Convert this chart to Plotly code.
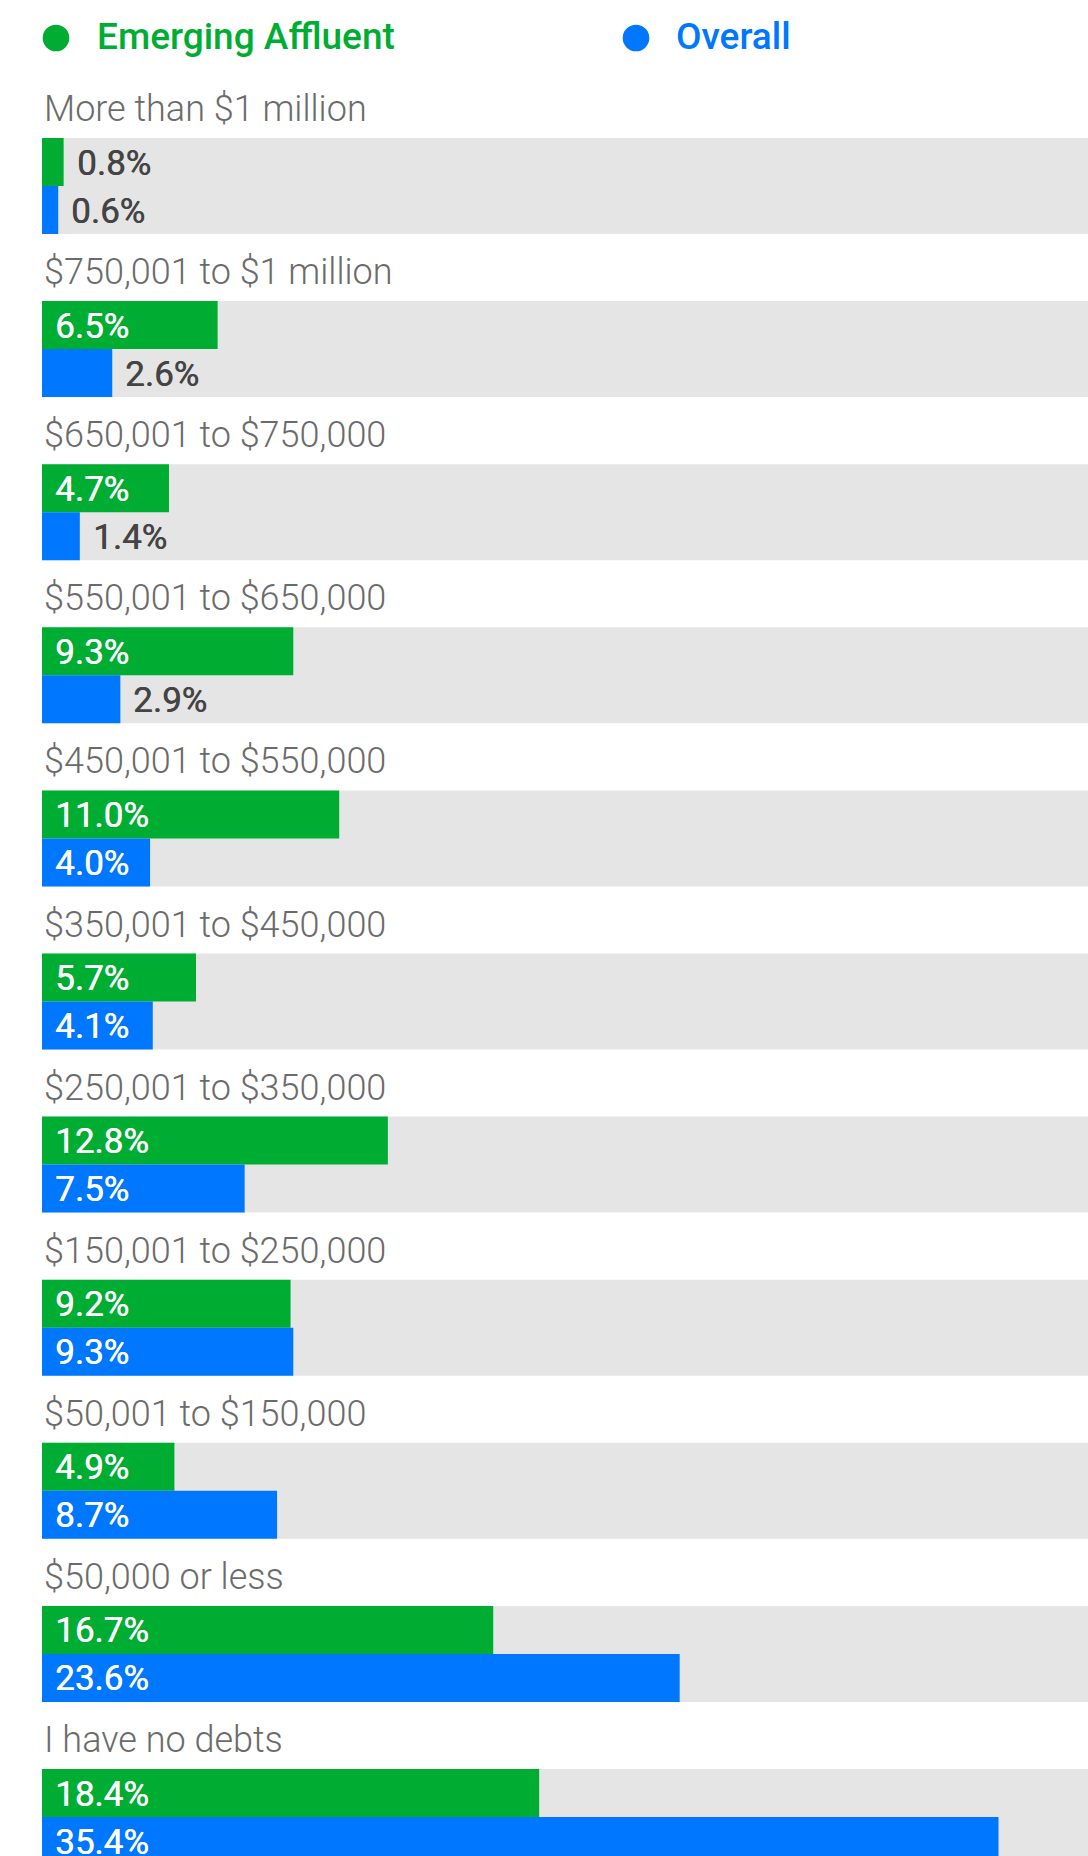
import plotly.graph_objects as go

# ---------------- data ----------------
categories = [
    "More than $1 million",
    "$750,001 to $1 million",
    "$650,001 to $750,000",
    "$550,001 to $650,000",
    "$450,001 to $550,000",
    "$350,001 to $450,000",
    "$250,001 to $350,000",
    "$150,001 to $250,000",
    "$50,001 to $150,000",
    "$50,000 or less",
    "I have no debts",
]
emerging_affluent = [0.8, 6.5, 4.7, 9.3, 11.0, 5.7, 12.8, 9.2, 4.9, 16.7, 18.4]
overall = [0.6, 2.6, 1.4, 2.9, 4.0, 4.1, 7.5, 9.3, 8.7, 23.6, 35.4]
series_names = ["Emerging Affluent", "Overall"]

# ---------------- style / layout constants ----------------
W, H = 1088, 1856
X0 = 42            # px where bars start
PPU = 27.02        # px per percentage point
TOP0 = 138         # px, top of first grey band
PERIOD = 163.1     # px between groups
BAR_H = 48         # px per bar
GREEN = "#00AD33"
BLUE = "#0077FF"
GREY = "#E5E5E5"
LABEL_GREY = "#6B6B6B"
DARK = "#444444"
FONT = "Roboto"
INSIDE_MIN = 3.5   # labels go inside the bar when value >= this

xmin = -X0 / PPU
xmax = (W - X0) / PPU

n = len(categories)
tops = [TOP0 + PERIOD * i for i in range(n)]

fig = go.Figure()

# grey background bands
fig.add_trace(go.Bar(
    x=[xmax] * n, y=[t + BAR_H for t in tops], width=[2 * BAR_H] * n, base=0,
    orientation="h", marker=dict(color=GREY, line=dict(width=0)),
    hoverinfo="skip", showlegend=False,
))
# series bars
for vals, offs, col, name in [(emerging_affluent, BAR_H / 2, GREEN, series_names[0]),
                              (overall, BAR_H * 1.5, BLUE, series_names[1])]:
    fig.add_trace(go.Bar(
        x=vals, y=[t + offs for t in tops], width=[BAR_H] * n, base=0,
        orientation="h", marker=dict(color=col, line=dict(width=0)),
        name=name, showlegend=False,
    ))

annotations = []
# category labels
for cat, t in zip(categories, tops):
    annotations.append(dict(
        x=X0 / W, xref="paper", y=t - 29, yref="y", text=cat, showarrow=False,
        xanchor="left", yanchor="middle", xshift=0,
        font=dict(family=FONT, size=36, color=LABEL_GREY, weight=300),
    ))
# value labels
for vals, offs in [(emerging_affluent, BAR_H / 2), (overall, BAR_H * 1.5)]:
    for v, t in zip(vals, tops):
        inside = v >= INSIDE_MIN
        col = "#FFFFFF" if inside else DARK
        annotations.append(dict(
            x=0 if inside else v, xref="x", y=t + offs + 1, yref="y",
            text=f"{v:.1f}%", showarrow=False, xanchor="left", yanchor="middle",
            xshift=11,
            font=dict(family=FONT, size=35, color=col, weight=400,
                      shadow=f"0.5px 0 0 {col}"),
        ))
# legend
legend_items = [(series_names[0], GREEN, 56, 98), (series_names[1], BLUE, 636, 677)]
shapes = []
for name, col, cx, tx in legend_items:
    shapes.append(dict(
        type="circle", xref="paper", yref="y", xsizemode="pixel", ysizemode="pixel",
        xanchor=cx / W, yanchor=38, x0=-13.3, x1=13.3, y0=-13.3, y1=13.3,
        fillcolor=col, line=dict(width=0),
    ))
    annotations.append(dict(
        x=tx / W, xref="paper", y=36, yref="y", text=name, showarrow=False,
        xanchor="left", yanchor="middle", xshift=-3,
        font=dict(family=FONT, size=37, color=col, weight=500),
    ))

fig.update_layout(
    width=W, height=H, margin=dict(l=0, r=0, t=0, b=0),
    paper_bgcolor="white", plot_bgcolor="white",
    barmode="overlay", showlegend=False,
    xaxis=dict(range=[xmin, xmax], domain=[0, 1], visible=False, fixedrange=True),
    yaxis=dict(range=[H, 0], domain=[0, 1], visible=False, fixedrange=True),
    annotations=annotations, shapes=shapes,
)

fig.write_html("out.html", config={"displayModeBar": False},
               post_script="document.body.style.margin='0';")
